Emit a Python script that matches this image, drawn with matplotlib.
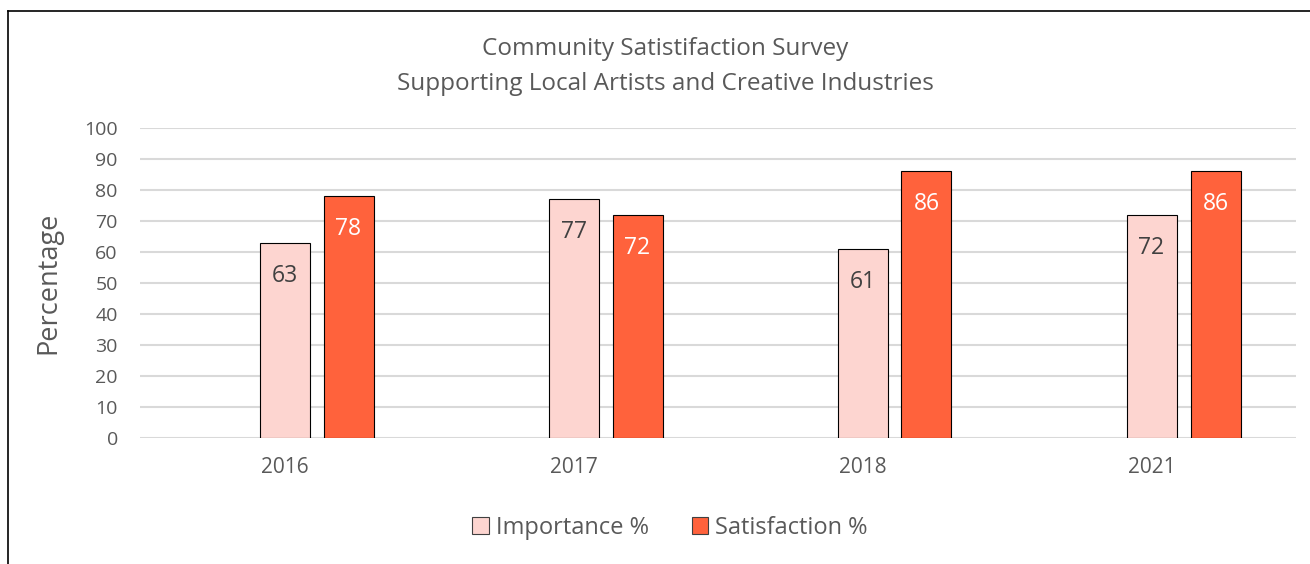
import matplotlib
matplotlib.use("Agg")
import matplotlib.pyplot as plt
from matplotlib.lines import Line2D
from matplotlib.patches import Patch
import numpy as np

plt.rcParams['font.family'] = ['Open Sans', 'DejaVu Sans']

years = ["2016", "2017", "2018", "2021"]
importance = [63, 77, 61, 72]
satisfaction = [78, 72, 86, 86]
y_ticks = list(range(0, 101, 10))

title_lines = ["Community Satistifaction Survey", "Supporting Local Artists and Creative Industries"]
y_label = "Percentage"
series_names = ["Importance %", "Satisfaction %"]

imp_color = "#FDD5D0"
sat_color = "#FF623C"
text_gray = "#595959"
grid_gray = "#D9D9D9"

W, H = 1310, 564
fig = plt.figure(figsize=(W / 100, H / 100), dpi=100)
ax = fig.add_axes([140 / W, 1 - 438 / H, (1296 - 140) / W, (438 - 128) / H])

x = np.arange(len(years))
step = 289.0
bw = 50 / step
off = 64 / step

b1 = ax.bar(x, importance, width=bw, color=imp_color, edgecolor="black", linewidth=0.8, zorder=3)
b2 = ax.bar(x + off, satisfaction, width=bw, color=sat_color, edgecolor="black", linewidth=0.8, zorder=3)

for bars, vals, col in ((b1, importance, "#404040"), (b2, satisfaction, "white")):
    for rect, v in zip(bars, vals):
        ax.annotate(f"{v}", (rect.get_x() + rect.get_width() / 2, v), xytext=(0, -33 * 0.72),
                    textcoords="offset points", ha="center", va="center", fontsize=16.5,
                    color=col, zorder=4)

ax.set_xlim(-0.5, len(years) - 0.5)
ax.set_ylim(0, 100)
ax.set_yticks(y_ticks)
ax.set_xticks(x)
ax.set_xticklabels(years)
ax.tick_params(axis="y", length=0, labelsize=14, colors=text_gray, pad=16)
ax.tick_params(axis="x", length=0, labelsize=15, colors=text_gray, pad=14)
ax.grid(axis="y", color=grid_gray, linewidth=1.5, zorder=0)
for s in ax.spines.values():
    s.set_visible(False)
ax.set_ylabel(y_label, fontsize=19.5, color=text_gray)
ax.yaxis.set_label_coords((62 - 140) / (1296 - 140), 0.5)

fig.text(665 / W, 1 - 49 / H, title_lines[0], ha="center", va="center", fontsize=17.5, color=text_gray)
fig.text(665 / W, 1 - 84 / H, title_lines[1], ha="center", va="center", fontsize=17.5, color=text_gray)

handles = [Patch(facecolor=imp_color, edgecolor="#404040", linewidth=0.8),
           Patch(facecolor=sat_color, edgecolor="#404040", linewidth=0.8)]
fig.legend(handles, series_names, loc="center", bbox_to_anchor=(670 / W, 1 - 528 / H), ncol=2,
           frameon=False, fontsize=17, handlelength=0.7, handleheight=0.7, handletextpad=0.3,
           columnspacing=1.8, labelcolor=text_gray)

# outer frame (left and top edges)
fig.add_artist(Line2D([8 / W, 8 / W], [0, 1 - 11 / H], transform=fig.transFigure, color="black", linewidth=1.2))
fig.add_artist(Line2D([8 / W, 1], [1 - 11 / H, 1 - 11 / H], transform=fig.transFigure, color="black", linewidth=1.2))

fig.savefig("out.png", dpi=100)
